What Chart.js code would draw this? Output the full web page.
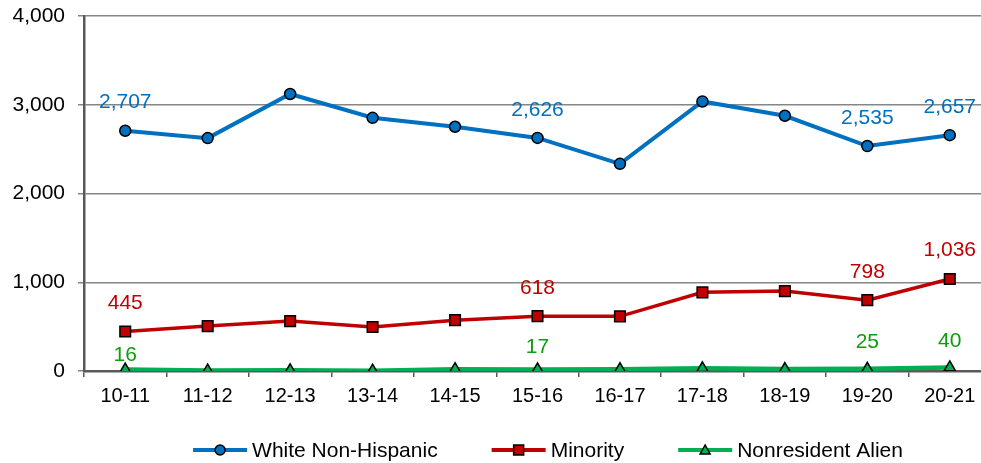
<!DOCTYPE html>
<html>
<head>
<meta charset="utf-8">
<script src="https://cdn.jsdelivr.net/npm/chart.js@4/dist/chart.umd.min.js"></script>
<style>
  html, body { margin: 0; padding: 0; background: #fff; overflow: hidden; }
  #wrap { width: 981px; height: 463px; overflow: hidden; }
</style>
</head>
<body>
<div id="wrap"><canvas id="chart" width="1000" height="463"></canvas></div>
<script>
const categories = ['10-11', '11-12', '12-13', '13-14', '14-15', '15-16', '16-17', '17-18', '18-19', '19-20', '20-21'];
const whiteNonHispanic = [2707, 2624, 3121, 2853, 2752, 2626, 2334, 3037, 2876, 2535, 2657];
const minority = [445, 506, 562, 495, 573, 618, 616, 886, 900, 798, 1036];
const nonresidentAlien = [16, 5, 8, 4, 20, 17, 20, 30, 22, 25, 40];
const labeledPoints = [0, 5, 9, 10];
const yTicks = [0, 1000, 2000, 3000, 4000];

const FONT = '"Liberation Sans", Arial, sans-serif';
const LABEL_COLORS = ['#0070C0', '#C00000', '#109C10'];
// how far above each labelled point its number sits
const LABEL_OFFSETS = [[29, 28, 28, 28], [28, 28, 28, 29], [14, 22, 27, 26]];
const LEGEND_CENTER_X = 548;
const LEGEND_Y = 450;

const valueLabels = {
  id: 'valueLabels',
  afterDatasetsDraw(chart) {
    const ctx = chart.ctx;
    ctx.save();
    ctx.font = '21px ' + FONT;
    ctx.textAlign = 'center';
    ctx.textBaseline = 'middle';
    chart.data.datasets.forEach((ds, i) => {
      const meta = chart.getDatasetMeta(i);
      ctx.fillStyle = LABEL_COLORS[i];
      labeledPoints.forEach((idx, k) => {
        const pt = meta.data[idx];
        ctx.fillText(ds.data[idx].toLocaleString('en-US'), pt.x, pt.y - LABEL_OFFSETS[i][k]);
      });
    });
    ctx.restore();
  }
};

function drawMarker(ctx, style, x, y, color) {
  ctx.fillStyle = color;
  ctx.strokeStyle = '#000';
  ctx.lineWidth = 1.5;
  ctx.beginPath();
  if (style === 'circle') {
    ctx.arc(x, y, 5, 0, Math.PI * 2);
  } else if (style === 'rect') {
    ctx.rect(x - 5, y - 5, 10, 10);
  } else {
    ctx.moveTo(x, y - 5);
    ctx.lineTo(x + 5, y + 4);
    ctx.lineTo(x - 5, y + 4);
    ctx.closePath();
  }
  ctx.fill();
  ctx.stroke();
}

const bottomLegend = {
  id: 'bottomLegend',
  afterDraw(chart) {
    const ctx = chart.ctx;
    const iconW = 54, textGap = 5, itemGap = 54;
    ctx.save();
    ctx.font = '21px ' + FONT;
    const items = chart.data.datasets.map(ds => ({ ds, w: ctx.measureText(ds.label).width }));
    let total = items.reduce((s, it) => s + iconW + textGap + it.w, 0) + itemGap * (items.length - 1);
    let x = LEGEND_CENTER_X - total / 2;
    items.forEach(it => {
      ctx.strokeStyle = it.ds.borderColor;
      ctx.lineWidth = 4;
      ctx.beginPath();
      ctx.moveTo(x, LEGEND_Y);
      ctx.lineTo(x + iconW, LEGEND_Y);
      ctx.stroke();
      drawMarker(ctx, it.ds.pointStyle, x + iconW / 2, LEGEND_Y, it.ds.pointBackgroundColor);
      ctx.fillStyle = '#000';
      ctx.textAlign = 'left';
      ctx.textBaseline = 'middle';
      ctx.fillText(it.ds.label, x + iconW + textGap, LEGEND_Y + 1);
      x += iconW + textGap + it.w + itemGap;
    });
    ctx.restore();
  }
};

const ctx = document.getElementById('chart').getContext('2d');
new Chart(ctx, {
  type: 'line',
  data: {
    labels: categories,
    datasets: [
      {
        label: 'White Non-Hispanic',
        data: whiteNonHispanic,
        borderColor: '#0070C0',
        borderWidth: 4,
        pointStyle: 'circle',
        pointRadius: 5.5,
        pointBackgroundColor: '#0070C0',
        pointBorderColor: '#000',
        pointBorderWidth: 1.5,
        tension: 0
      },
      {
        label: 'Minority',
        data: minority,
        borderColor: '#C00000',
        borderWidth: 3.5,
        pointStyle: 'rect',
        pointRadius: 7.5,
        pointBackgroundColor: '#C00000',
        pointBorderColor: '#000',
        pointBorderWidth: 1.5,
        tension: 0
      },
      {
        label: 'Nonresident Alien',
        data: nonresidentAlien,
        borderColor: '#00B050',
        borderWidth: 4.5,
        pointStyle: 'triangle',
        pointRadius: 6.5,
        pointBackgroundColor: '#00B050',
        pointBorderColor: '#000',
        pointBorderWidth: 1.5,
        tension: 0
      }
    ]
  },
  options: {
    responsive: false,
    animation: false,
    devicePixelRatio: 1,
    locale: 'en-US',
    layout: { padding: { top: 16, right: 6, bottom: 52, left: 0 } },
    scales: {
      x: {
        offset: true,
        grid: { drawOnChartArea: false, offset: true, tickLength: 6, color: '#595959', lineWidth: 1.5 },
        border: { color: '#595959', width: 2.5 },
        ticks: { color: '#000', font: { family: FONT, size: 20 }, padding: 7, maxRotation: 0, autoSkip: false },
        afterFit: (scale) => { scale.height = 40; }
      },
      y: {
        min: yTicks[0],
        max: yTicks[yTicks.length - 1],
        afterBuildTicks: (scale) => { scale.ticks = yTicks.map(v => ({ value: v })); },
        grid: { color: '#868686', lineWidth: 1.5, tickLength: 6 },
        border: { color: '#595959', width: 2.5 },
        ticks: { color: '#000', font: { family: FONT, size: 21 }, padding: 13 },
        afterFit: (scale) => {
          scale.width = 84;
          scale.paddingTop = 0;
          scale.paddingBottom = 0;
        }
      }
    },
    plugins: {
      legend: { display: false },
      tooltip: { enabled: false }
    }
  },
  plugins: [valueLabels, bottomLegend]
});
</script>
</body>
</html>
